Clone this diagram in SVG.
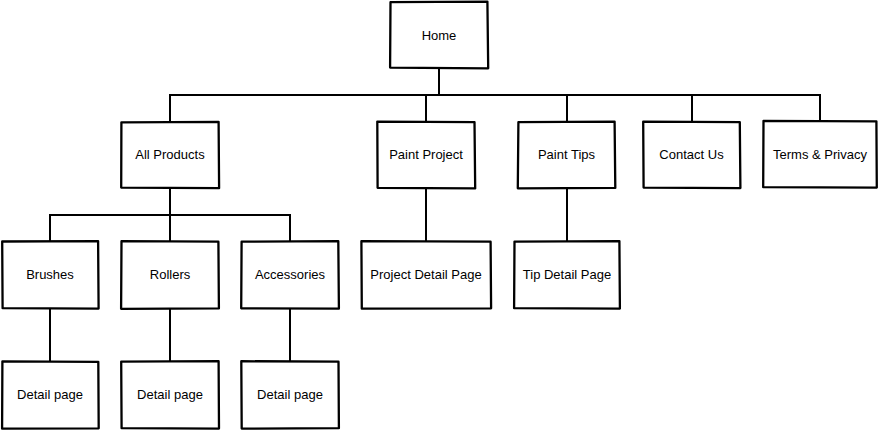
<svg xmlns="http://www.w3.org/2000/svg" width="878" height="430" viewBox="0 0 878 430">
<style>
.box{fill:#ffffff;stroke:#000000;stroke-width:2.3;stroke-linejoin:round;stroke-linecap:round}
.lbl{font-family:"Liberation Sans",Arial,sans-serif;font-size:13px;fill:#000000;text-anchor:middle}
.conn{fill:none;stroke:#000000;stroke-width:2;stroke-linecap:square}
</style>
<rect width="878" height="430" fill="#ffffff"/>
<g id="connectors">
<path class="conn" d="M439,68 V95 M170,95 H820 M170,95 V122 M426,95 V122 M567,95 V122 M692,95 V121 M820,95 V121"/>
<path class="conn" d="M170,188 V215 M50,215 H290 M50,215 V241 M170,215 V241 M290,215 V241"/>
<path class="conn" d="M426,188 V241 M567,188 V241"/>
<path class="conn" d="M50,309 V361 M170,309 V361 M290,309 V361"/>
</g>
<g id="home">
<path class="box" d="M390.5,2.2 L487.4,1.6 L488.2,68.3 L390.1,67.6 Z"/>
<text class="lbl" x="439" y="39.5">Home</text>
</g>
<g id="all-products">
<path class="box" d="M121.4,122.3 L218.6,121.8 L219.1,188.2 L121.2,187.6 Z"/>
<text class="lbl" x="170" y="159">All Products</text>
</g>
<g id="paint-project">
<path class="box" d="M377.3,121.6 L474.5,122.1 L475.2,188.4 L377.6,187.8 Z"/>
<text class="lbl" x="426" y="159">Paint Project</text>
</g>
<g id="paint-tips">
<path class="box" d="M518.4,122.2 L614.6,121.6 L615.3,187.9 L517.8,188.3 Z"/>
<text class="lbl" x="566.5" y="159">Paint Tips</text>
</g>
<g id="contact-us">
<path class="box" d="M643.2,121.7 L739.8,122.2 L740.4,188.1 L643.6,187.6 Z"/>
<text class="lbl" x="691.5" y="159">Contact Us</text>
</g>
<g id="terms-privacy">
<path class="box" d="M763.5,120.8 L876.4,121.3 L876.8,187.6 L763.2,187.2 Z"/>
<text class="lbl" x="820" y="159">Terms &amp; Privacy</text>
</g>
<g id="brushes">
<path class="box" d="M2.2,241.5 L98.1,241.1 L98.6,308.6 L2.6,308.2 Z"/>
<text class="lbl" x="50" y="279">Brushes</text>
</g>
<g id="rollers">
<path class="box" d="M121.5,241.2 L218.4,241.7 L218.9,308.4 L121.1,308.8 Z"/>
<text class="lbl" x="170" y="279">Rollers</text>
</g>
<g id="accessories">
<path class="box" d="M241.6,241.7 L338.3,241.2 L338.9,308.7 L241.2,308.3 Z"/>
<text class="lbl" x="290" y="279">Accessories</text>
</g>
<g id="project-detail-page">
<path class="box" d="M361.4,241.2 L490.6,241.7 L491.1,308.3 L361.8,308.7 Z"/>
<text class="lbl" x="426" y="279">Project Detail Page</text>
</g>
<g id="tip-detail-page">
<path class="box" d="M514.5,241.6 L619.4,241.1 L619.9,308.6 L514.1,308.2 Z"/>
<text class="lbl" x="567" y="279">Tip Detail Page</text>
</g>
<g id="detail-page-brushes">
<path class="box" d="M2.4,361.3 L98.3,361.8 L98.7,428.3 L2.1,428.7 Z"/>
<text class="lbl" x="50" y="399">Detail page</text>
</g>
<g id="detail-page-rollers">
<path class="box" d="M121.2,361.7 L218.6,361.2 L219.0,428.6 L121.6,428.2 Z"/>
<text class="lbl" x="170" y="399">Detail page</text>
</g>
<g id="detail-page-accessories">
<path class="box" d="M241.3,361.2 L338.5,361.7 L338.9,428.2 L241.7,428.6 Z"/>
<text class="lbl" x="290" y="399">Detail page</text>
</g>
</svg>
